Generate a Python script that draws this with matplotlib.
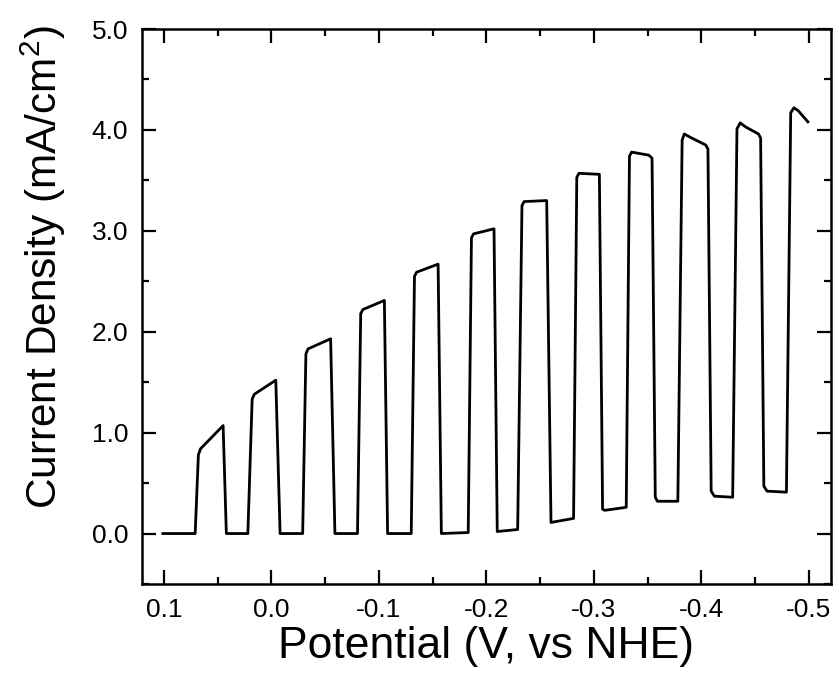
import matplotlib
matplotlib.use("Agg")
import matplotlib.pyplot as plt
from matplotlib.ticker import MultipleLocator, FormatStrFormatter

plt.rcParams['font.family'] = ['Liberation Sans', 'DejaVu Sans']
plt.rcParams['mathtext.fontset'] = 'custom'
plt.rcParams['mathtext.rm'] = 'Liberation Sans'
plt.rcParams['mathtext.it'] = 'Liberation Sans'

# chopped-light scan, vertices (V vs NHE, mA/cm2)
potential = [0.101, 0.071, 0.068, 0.066, 0.045, 0.042, 0.022, 0.018, 0.016,
             -0.004, -0.008, -0.029, -0.032, -0.034, -0.055, -0.059, -0.080,
             -0.083, -0.085, -0.105, -0.108, -0.130, -0.133, -0.135, -0.155,
             -0.158, -0.183, -0.186, -0.188, -0.207, -0.210, -0.229, -0.233,
             -0.235, -0.256, -0.260, -0.281, -0.284, -0.286, -0.305, -0.308,
             -0.310, -0.330, -0.333, -0.335, -0.351, -0.354, -0.357, -0.359,
             -0.378, -0.382, -0.384, -0.389, -0.404, -0.406, -0.409, -0.412,
             -0.429, -0.433, -0.436, -0.441, -0.453, -0.455, -0.458, -0.461,
             -0.479, -0.483, -0.486, -0.490, -0.499]
current = [0.00, 0.00, 0.78, 0.84, 1.07, 0.00, 0.00, 1.33, 1.38,
           1.52, 0.00, 0.00, 1.78, 1.83, 1.93, 0.00, 0.00,
           2.18, 2.22, 2.31, 0.00, 0.00, 2.55, 2.59, 2.67,
           0.00, 0.01, 2.93, 2.97, 3.02, 0.02, 0.04, 3.25,
           3.29, 3.30, 0.11, 0.15, 3.53, 3.57, 3.56, 0.24,
           0.23, 0.26, 3.74, 3.78, 3.75, 3.72, 0.36, 0.32,
           0.32, 3.90, 3.96, 3.93, 3.85, 3.81, 0.42, 0.37,
           0.36, 4.01, 4.07, 4.03, 3.96, 3.92, 0.47, 0.42,
           0.41, 4.17, 4.22, 4.19, 4.08]

x_ticks = [0.1, 0.0, -0.1, -0.2, -0.3, -0.4, -0.5]
y_ticks = [0.0, 1.0, 2.0, 3.0, 4.0, 5.0]

fig = plt.figure(figsize=(8.39, 6.86), dpi=100)
ax = fig.add_axes([0.1692, 0.1487, 0.8213, 0.809])

ax.plot(potential, current, color='black', lw=2.0, solid_joinstyle='round')

ax.set_xlim(0.1205, -0.5205)
ax.set_ylim(-0.5, 5.0)
ax.set_xticks(x_ticks)
ax.set_yticks(y_ticks)
ax.xaxis.set_minor_locator(MultipleLocator(0.05))
ax.yaxis.set_minor_locator(MultipleLocator(0.5))
ax.xaxis.set_major_formatter(FormatStrFormatter('%.1f'))
ax.yaxis.set_major_formatter(FormatStrFormatter('%.1f'))

ax.tick_params(which='both', direction='in', top=True, right=True,
               width=1.6, labelsize=19, pad=10)
ax.tick_params(which='major', length=10)
ax.tick_params(which='minor', length=5)
for s in ax.spines.values():
    s.set_linewidth(1.8)

ax.set_xlabel('Potential (V, vs NHE)', fontsize=32, labelpad=3)
ax.set_ylabel('Current Density (mA/cm$^2$)', fontsize=30.5)
ax.yaxis.set_label_coords(-0.107, 0.571)

fig.savefig('out.png', dpi=100)
